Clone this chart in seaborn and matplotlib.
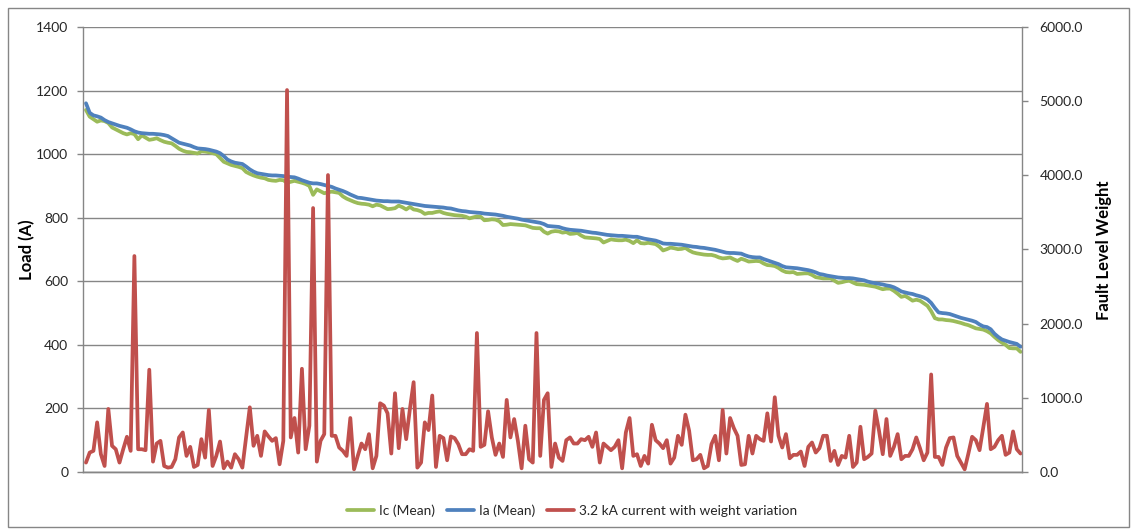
import matplotlib
matplotlib.use("Agg")
import matplotlib.pyplot as plt
from matplotlib.lines import Line2D
from matplotlib.patches import Rectangle
from matplotlib.ticker import FormatStrFormatter, MultipleLocator
import numpy as np
import pandas as pd
import seaborn as sns

# Mean load per feeder, sorted by Ia (A)
ia_mean = [
    1160, 1130, 1122, 1119, 1115, 1107, 1101, 1097, 1093, 1089,
    1086, 1083, 1078, 1072, 1068, 1066, 1065, 1064, 1064, 1063,
    1062, 1060, 1057, 1050, 1043, 1036, 1033, 1030, 1027, 1022,
    1018, 1017, 1016, 1014, 1011, 1008, 1003, 994, 983, 977,
    973, 971, 969, 961, 952, 945, 940, 938, 936, 934,
    933, 933, 932, 931, 929, 928, 927, 923, 918, 914, 910,
    908, 908, 906, 903, 900, 897, 892, 888, 884, 879,
    873, 868, 863, 862, 860, 858, 856, 854, 853, 852,
    852, 851, 851, 851, 849, 847, 845, 843, 841, 839,
    837, 836, 835, 834, 833, 832, 830, 829, 826, 823,
    821, 820, 818, 817, 816, 815, 813, 812, 811, 810,
    808, 806, 803, 801, 799, 797, 794, 792, 790, 788,
    786, 784, 780, 774, 773, 772, 771, 767, 764, 762,
    761, 760, 759, 757, 755, 753, 752, 750, 748, 746,
    745, 744, 743, 743, 742, 741, 740, 740, 737, 734,
    732, 730, 728, 724, 719, 718, 718, 717, 716, 715,
    713, 711, 709, 708, 706, 705, 703, 701, 699, 696,
    693, 690, 689, 689, 688, 687, 682, 678, 676, 675,
    675, 670, 666, 662, 658, 654, 648, 644, 643, 642,
    641, 639, 637, 635, 632, 628, 623, 621, 618, 616,
    614, 612, 611, 610, 610, 609, 607, 605, 603, 599,
    596, 594, 592, 590, 587, 585, 581, 575, 568, 565,
    562, 560, 556, 553, 549, 543, 532, 516, 502, 500,
    499, 497, 493, 489, 485, 482, 479, 476, 472, 464,
    458, 456, 449, 435, 425, 417, 413, 409, 406, 403,
    394,
]

ic_mean = [
    1139, 1118, 1110, 1102, 1106, 1104, 1098, 1084, 1078, 1072,
    1066, 1062, 1066, 1063, 1047, 1059, 1052, 1045, 1047, 1050,
    1044, 1039, 1036, 1034, 1026, 1017, 1011, 1007, 1006, 1004,
    1002, 1009, 1008, 1006, 1003, 1000, 988, 976, 971, 966,
    963, 960, 956, 944, 938, 933, 929, 926, 924, 919,
    917, 916, 919, 918, 910, 913, 916, 913, 910, 906, 900,
    872, 889, 883, 877, 880, 882, 880, 878, 867, 860,
    855, 850, 846, 844, 843, 841, 836, 841, 839, 833,
    827, 828, 830, 838, 833, 826, 834, 826, 824, 820,
    812, 815, 815, 818, 820, 815, 812, 810, 808, 807,
    806, 803, 798, 801, 804, 803, 792, 793, 795, 794,
    789, 777, 778, 780, 779, 778, 777, 776, 772, 768,
    767, 767, 756, 750, 756, 758, 757, 753, 755, 749,
    750, 752, 744, 738, 737, 736, 735, 733, 722, 727,
    732, 730, 729, 729, 731, 727, 720, 729, 720, 719,
    721, 719, 717, 709, 697, 701, 706, 704, 701, 702,
    705, 697, 691, 688, 686, 684, 683, 683, 680, 675,
    672, 673, 675, 669, 664, 671, 667, 662, 663, 664,
    663, 656, 651, 650, 648, 642, 634, 629, 628, 629,
    623, 624, 625, 625, 620, 613, 611, 609, 609, 609,
    602, 595, 597, 600, 602, 596, 591, 590, 589, 587,
    585, 583, 579, 575, 577, 577, 570, 561, 551, 554,
    547, 539, 542, 539, 531, 523, 506, 484, 480, 480,
    478, 477, 475, 472, 469, 465, 462, 457, 452, 450,
    448, 443, 436, 425, 415, 407, 400, 390, 389, 389,
    378,
]

# Fault level weight for a 3.2 kA current, per feeder
fault_weight = [
    127, 262, 285, 669, 240, 81, 850, 353, 307, 127,
    307, 475, 285, 2912, 307, 307, 294, 1379, 140, 384,
    420, 81, 59, 68, 172, 466, 533, 217, 339, 68,
    95, 443, 194, 836, 81, 217, 411, 50, 140, 59,
    240, 172, 59, 466, 872, 353, 488, 217, 547, 480, 420,
    457, 104, 420, 5150, 466, 728, 262, 1392, 307, 624,
    3559, 140, 420, 511, 4004, 488, 488, 330, 285, 217,
    728, 36, 217, 384, 307, 511, 50, 217, 927, 895,
    791, 249, 1062, 321, 850, 443, 850, 1211, 59, 127,
    669, 565, 1031, 68, 488, 457, 158, 479, 457, 375,
    240, 240, 307, 285, 1874, 339, 366, 818, 466, 231,
    384, 203, 972, 466, 714, 420, 50, 624, 172, 127,
    1874, 217, 972, 1062, 68, 384, 194, 149, 429, 466,
    384, 384, 443, 429, 475, 339, 533, 127, 384, 339,
    294, 339, 429, 50, 533, 728, 217, 240, 81, 217,
    113, 637, 429, 384, 321, 429, 113, 194, 488, 366,
    773, 556, 158, 172, 231, 50, 81, 375, 488, 158,
    836, 249, 728, 592, 488, 95, 104, 488, 249, 488,
    443, 420, 791, 411, 1008, 488, 330, 511, 185, 231,
    231, 276, 81, 339, 398, 262, 321, 488, 488, 149,
    285, 95, 217, 194, 488, 68, 127, 610, 172, 203,
    249, 827, 556, 240, 714, 217, 339, 511, 172, 217,
    217, 307, 466, 321, 158, 262, 1315, 203, 203, 95,
    330, 457, 466, 217, 127, 36, 249, 475, 429, 294,
    601, 918, 307, 339, 429, 488, 231, 262, 547, 307,
    249,
]

series_labels = ["Ic (Mean)", "Ia (Mean)", "3.2 kA current with weight variation"]

GREEN = "#9BBB59"
BLUE = "#4F81BD"
RED = "#C0504D"
AXIS_GREY = "#868686"
TEXT = "#262626"

sns.set_style("white")
plt.rcParams["font.family"] = ["Lato", "DejaVu Sans"]

df = pd.DataFrame({
    "feeder": np.arange(len(ia_mean)),
    "ia": ia_mean,
    "ic": ic_mean,
    "weight": fault_weight,
})

fig = plt.figure(figsize=(11.32, 5.29), dpi=100)
fig.patch.set_facecolor("white")
ax1 = fig.add_axes([83 / 1132, 1 - 472 / 529, (1022 - 83) / 1132, (472 - 27) / 529])
ax2 = ax1.twinx()

lw = 2.7
sns.lineplot(data=df, x="feeder", y="ic", ax=ax1, color=GREEN, linewidth=lw, legend=False)
sns.lineplot(data=df, x="feeder", y="ia", ax=ax1, color=BLUE, linewidth=lw, legend=False)
sns.lineplot(data=df, x="feeder", y="weight", ax=ax2, color=RED, linewidth=lw, legend=False)

n = len(df)
ax1.set_xlim(-0.8, n - 0.6)
ax1.set_ylim(0, 1400)
ax2.set_ylim(0, 6000)
ax1.yaxis.set_major_locator(MultipleLocator(200))
ax2.yaxis.set_major_locator(MultipleLocator(1000))
ax2.yaxis.set_major_formatter(FormatStrFormatter("%.1f"))

ax1.set_xticks([])
ax1.set_xlabel("")
ax1.set_ylabel("")
ax2.set_ylabel("")

ax1.grid(axis="y", color=AXIS_GREY, linewidth=1.0)
ax1.set_axisbelow(True)
ax2.grid(False)

for ax in (ax1, ax2):
    ax.spines["top"].set_visible(False)
    for side in ("left", "right", "bottom"):
        ax.spines[side].set_color(AXIS_GREY)
        ax.spines[side].set_linewidth(1.0)
ax1.spines["right"].set_visible(False)
ax2.spines["left"].set_visible(False)

ax1.tick_params(axis="y", direction="out", length=4.5, width=1.0, color=AXIS_GREY,
                labelsize=10, labelcolor=TEXT, pad=6, left=True)
ax2.tick_params(axis="y", direction="out", length=4.5, width=1.0, color=AXIS_GREY,
                labelsize=10, labelcolor=TEXT, pad=8, right=True)

fig.text(27 / 1132, 1 - 250 / 529, "Load (A)", rotation=90, ha="center", va="center",
         fontsize=12, fontweight="bold", color="black")
fig.text(1104 / 1132, 1 - 250 / 529, "Fault Level Weight", rotation=90, ha="center",
         va="center", fontsize=12, fontweight="bold", color="black")

handles = [
    Line2D([0], [0], color=GREEN, linewidth=lw),
    Line2D([0], [0], color=BLUE, linewidth=lw),
    Line2D([0], [0], color=RED, linewidth=lw),
]
fig.legend(handles, series_labels, loc="center", bbox_to_anchor=(572 / 1132, 1 - 511 / 529),
           ncol=3, frameon=False, fontsize=9.9, handlelength=2.0, handletextpad=0.35,
           columnspacing=0.85, labelcolor=TEXT)

fig.add_artist(Rectangle((8 / 1132, 2 / 529), 1121 / 1132, 519 / 529,
                         transform=fig.transFigure, fill=False,
                         edgecolor=AXIS_GREY, linewidth=1.0))

fig.savefig("out.png", dpi=100, facecolor="white")
